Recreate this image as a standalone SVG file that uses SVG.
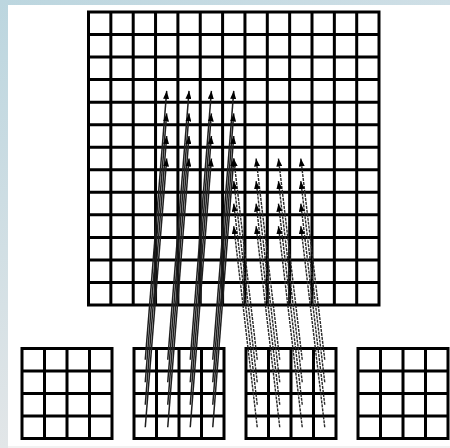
<svg xmlns="http://www.w3.org/2000/svg" width="450" height="448" viewBox="0 0 450 448">
<defs>
<linearGradient id="bgL" x1="0" y1="0" x2="0" y2="1">
<stop offset="0" stop-color="#bcd6df"/>
<stop offset="1" stop-color="#e2e6e8"/>
</linearGradient>
<linearGradient id="bgT" x1="0" y1="0" x2="1" y2="0">
<stop offset="0" stop-color="#bcd6df"/>
<stop offset="1" stop-color="#cfdfe6"/>
</linearGradient>
<marker id="ah" viewBox="0 0 8 6" refX="8" refY="3" markerWidth="8" markerHeight="6" markerUnits="userSpaceOnUse" orient="auto">
<path d="M0,0 L8,3 L0,6 z" fill="#000"/>
</marker>
<style>
.grid{fill:none;stroke:#000;stroke-width:3;stroke-linecap:square}
.a2{stroke:#1e1e1e;stroke-width:1.5;fill:none;marker-end:url(#ah)}
.a3{stroke:#2a2a2a;stroke-width:1.4;fill:none;stroke-dasharray:3 1;marker-end:url(#ah)}
</style>
</defs>
<rect x="0" y="0" width="450" height="448" fill="#ffffff"/>
<rect x="0" y="0" width="450" height="5" fill="url(#bgT)"/>
<rect x="0" y="0" width="8" height="448" fill="url(#bgL)"/>
<rect x="8" y="446" width="442" height="2" fill="#f2f2f2"/>

<g id="top-grid">
<path class="grid" d="M88.5,12 H379 V305 H88.5 Z
M110.85,12 V305 M133.2,12 V305 M155.55,12 V305 M177.9,12 V305 M200.25,12 V305 M222.6,12 V305 M244.95,12 V305 M267.3,12 V305 M289.65,12 V305 M312,12 V305 M334.35,12 V305 M356.7,12 V305
M88.5,34.54 H379 M88.5,57.08 H379 M88.5,79.62 H379 M88.5,102.16 H379 M88.5,124.7 H379 M88.5,147.24 H379 M88.5,169.78 H379 M88.5,192.32 H379 M88.5,214.86 H379 M88.5,237.4 H379 M88.5,259.94 H379 M88.5,282.48 H379"/>
</g>

<g id="grid-1">
<path class="grid" d="M22,348.5 H112 V438.5 H22 Z M44.5,348.5 V438.5 M67,348.5 V438.5 M89.5,348.5 V438.5 M22,371 H112 M22,393.5 H112 M22,416 H112"/>
</g>
<g id="grid-2">
<path class="grid" d="M134,348.5 H224 V438.5 H134 Z M156.5,348.5 V438.5 M179,348.5 V438.5 M201.5,348.5 V438.5 M134,371 H224 M134,393.5 H224 M134,416 H224"/>
</g>
<g id="grid-3">
<path class="grid" d="M246,348.5 H336 V438.5 H246 Z M268.5,348.5 V438.5 M291,348.5 V438.5 M313.5,348.5 V438.5 M246,371 H336 M246,393.5 H336 M246,416 H336"/>
</g>
<g id="grid-4">
<path class="grid" d="M358,348.5 H448 V438.5 H358 Z M380.5,348.5 V438.5 M403,348.5 V438.5 M425.5,348.5 V438.5 M358,371 H448 M358,393.5 H448 M358,416 H448"/>
</g>

<g id="connectors">
<line class="a2" x1="145.25" y1="359.75" x2="166.7" y2="90.89"/>
<line class="a2" x1="145.25" y1="382.25" x2="166.7" y2="113.43"/>
<line class="a2" x1="145.25" y1="404.75" x2="166.7" y2="135.97"/>
<line class="a2" x1="145.25" y1="427.25" x2="166.7" y2="158.51"/>
<line class="a2" x1="167.75" y1="359.75" x2="189.05" y2="90.89"/>
<line class="a2" x1="167.75" y1="382.25" x2="189.05" y2="113.43"/>
<line class="a2" x1="167.75" y1="404.75" x2="189.05" y2="135.97"/>
<line class="a2" x1="167.75" y1="427.25" x2="189.05" y2="158.51"/>
<line class="a2" x1="190.25" y1="359.75" x2="211.4" y2="90.89"/>
<line class="a2" x1="190.25" y1="382.25" x2="211.4" y2="113.43"/>
<line class="a2" x1="190.25" y1="404.75" x2="211.4" y2="135.97"/>
<line class="a2" x1="190.25" y1="427.25" x2="211.4" y2="158.51"/>
<line class="a2" x1="212.75" y1="359.75" x2="233.75" y2="90.89"/>
<line class="a2" x1="212.75" y1="382.25" x2="233.75" y2="113.43"/>
<line class="a2" x1="212.75" y1="404.75" x2="233.75" y2="135.97"/>
<line class="a2" x1="212.75" y1="427.25" x2="233.75" y2="158.51"/>

<line class="a3" x1="257.25" y1="359.75" x2="233.75" y2="158.51"/>
<line class="a3" x1="257.25" y1="382.25" x2="233.75" y2="181.05"/>
<line class="a3" x1="257.25" y1="404.75" x2="233.75" y2="203.59"/>
<line class="a3" x1="257.25" y1="427.25" x2="233.75" y2="226.13"/>
<line class="a3" x1="279.75" y1="359.75" x2="256.1" y2="158.51"/>
<line class="a3" x1="279.75" y1="382.25" x2="256.1" y2="181.05"/>
<line class="a3" x1="279.75" y1="404.75" x2="256.1" y2="203.59"/>
<line class="a3" x1="279.75" y1="427.25" x2="256.1" y2="226.13"/>
<line class="a3" x1="302.25" y1="359.75" x2="278.45" y2="158.51"/>
<line class="a3" x1="302.25" y1="382.25" x2="278.45" y2="181.05"/>
<line class="a3" x1="302.25" y1="404.75" x2="278.45" y2="203.59"/>
<line class="a3" x1="302.25" y1="427.25" x2="278.45" y2="226.13"/>
<line class="a3" x1="324.75" y1="359.75" x2="300.8" y2="158.51"/>
<line class="a3" x1="324.75" y1="382.25" x2="300.8" y2="181.05"/>
<line class="a3" x1="324.75" y1="404.75" x2="300.8" y2="203.59"/>
<line class="a3" x1="324.75" y1="427.25" x2="300.8" y2="226.13"/>
</g>
</svg>
